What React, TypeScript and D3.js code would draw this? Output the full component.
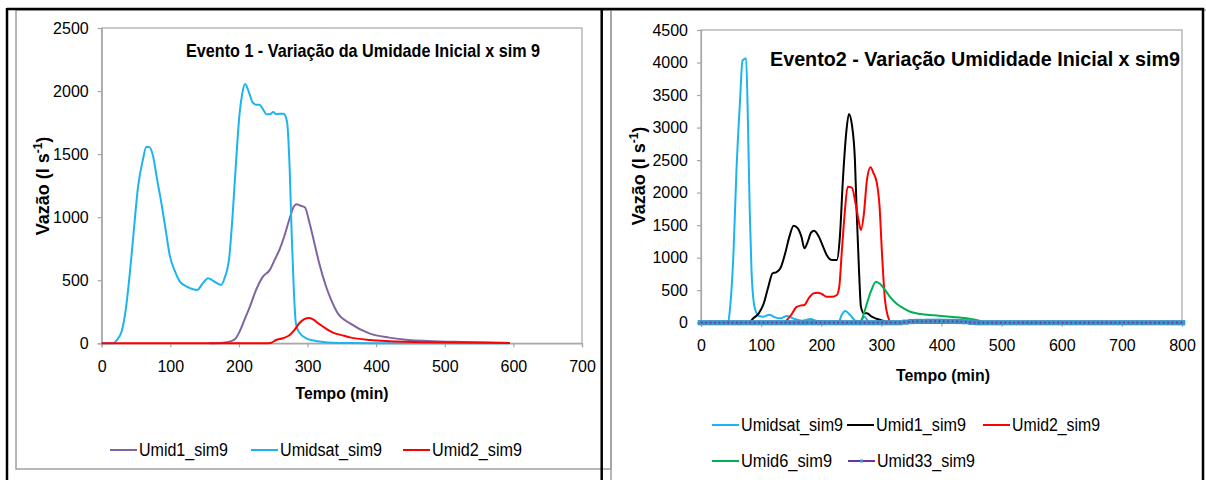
import React, { useEffect, useRef } from "react";
import * as d3 from "d3";

// ---- Evento 1 (left chart) : [tempo (min), vazão (l/s)]
const ev1Umid1 = [
  [157, 0], [177, 5], [186, 13], [194, 32], [201, 93], [208, 185], [216, 291], [225, 423],
  [235, 529], [245, 582], [252, 661], [259, 741], [266, 847], [274, 992], [280, 1085],
  [284, 1103], [289, 1093], [296, 1079], [303, 952], [310, 794], [317, 635], [327, 450],
  [334, 350], [344, 238], [362, 158], [390, 79], [419, 45], [447, 26], [475, 18], [526, 10],
  [595, 3],
];
const ev1Umidsat = [
  [0, 0], [17, 0], [22, 26], [29, 93], [35, 265], [41, 556], [46, 847], [53, 1243], [60, 1455],
  [65, 1556], [69, 1556], [75, 1481], [80, 1323], [87, 1111], [94, 873], [99, 701], [107, 569],
  [114, 489], [124, 450], [133, 429], [139, 423], [148, 481], [155, 516], [162, 497], [174, 463],
  [179, 516], [186, 688], [191, 1032], [196, 1455], [201, 1825], [205, 1984], [209, 2056],
  [215, 1984], [220, 1910], [225, 1892], [230, 1892], [235, 1857], [240, 1817], [245, 1817],
  [250, 1833], [254, 1817], [259, 1820], [265, 1820], [270, 1759], [274, 1376], [277, 847],
  [280, 423], [283, 159], [288, 85], [298, 40], [312, 19], [337, 5], [360, 2], [400, 0], [595, 0],
];
const ev1Umid2 = [
  [0, 0], [240, 0], [247, 5], [254, 26], [264, 40], [274, 66], [281, 106], [288, 159], [296, 193],
  [302, 201], [308, 190], [317, 153], [327, 116], [337, 85], [351, 63], [362, 47], [390, 26],
  [419, 16], [475, 8], [595, 3],
];
const ev1XTicks = [0, 100, 200, 300, 400, 500, 600, 700];
const ev1YTicks = [0, 500, 1000, 1500, 2000, 2500];

// ---- Evento 2 (right chart)
const ev2Umidsat = [
  [0, 0], [45, 0], [48, 195], [54, 1067], [59, 2349], [65, 3426], [69, 4030], [75, 4067],
  [78, 3118], [81, 1733], [84, 810], [89, 246], [96, 103], [104, 92], [114, 123], [123, 82],
  [132, 67], [143, 103], [154, 62], [168, 31], [182, 56], [193, 26], [204, 15], [229, 15],
  [234, 118], [240, 179], [248, 118], [257, 31], [265, 26], [272, 90], [279, 15], [290, 0],
  [800, 0],
];
const ev2Umid1 = [
  [0, 0], [79, 0], [87, 67], [96, 144], [104, 287], [112, 554], [119, 759], [125, 774],
  [132, 836], [140, 1067], [147, 1323], [154, 1492], [161, 1451], [167, 1323], [172, 1144],
  [177, 1231], [183, 1385], [188, 1415], [196, 1323], [203, 1169], [209, 1041], [218, 964],
  [226, 964], [231, 1323], [236, 2195], [242, 2964], [246, 3210], [251, 3041], [256, 2503],
  [259, 1682], [263, 759], [266, 246], [271, 144], [276, 144], [284, 92], [293, 56], [304, 26],
  [312, 5], [320, 0], [800, 0],
];
const ev2Umid2 = [
  [0, 0], [136, 0], [143, 41], [151, 133], [158, 236], [165, 262], [172, 272], [179, 374],
  [187, 451], [194, 462], [201, 441], [209, 400], [218, 400], [226, 426], [230, 554], [234, 1067],
  [239, 1682], [244, 2092], [251, 2077], [257, 1836], [262, 1579], [266, 1426], [271, 1682],
  [276, 2195], [282, 2390], [287, 2297], [292, 2169], [297, 1785], [301, 1067], [306, 349],
  [311, 92], [315, 15], [320, 0], [800, 0],
];
const ev2Umid6 = [
  [0, 0], [243, 0], [265, 15], [271, 144], [276, 297], [283, 492], [291, 631], [298, 595],
  [307, 492], [315, 390], [326, 287], [337, 221], [348, 169], [365, 133], [387, 113], [409, 97],
  [430, 80], [450, 55], [465, 25], [472, 3], [480, 0], [800, 0],
];
const ev2Umid33 = [
  [0, 0], [10, 0], [20, 0], [30, 0], [40, 0], [50, 0], [60, 0], [70, 0], [80, 0], [90, 0],
  [100, 0], [110, 0], [120, 0], [130, 0], [140, 0], [150, 0], [160, 0], [170, 0], [180, 0],
  [190, 0], [200, 0], [210, 0], [220, 0], [230, 0], [240, 0], [250, 0], [260, 0], [270, 0],
  [280, 0], [290, 0], [300, 0], [310, 0], [320, 0], [330, 0], [340, 8], [350, 18], [360, 20],
  [370, 20], [380, 22], [390, 22], [400, 22], [410, 20], [420, 20], [430, 18], [440, 15],
  [450, 5], [460, 0], [470, 0], [480, 0], [490, 0], [500, 0], [510, 0], [520, 0], [530, 0],
  [540, 0], [550, 0], [560, 0], [570, 0], [580, 0], [590, 0], [600, 0], [610, 0], [620, 0],
  [630, 0], [640, 0], [650, 0], [660, 0], [670, 0], [680, 0], [690, 0], [700, 0], [710, 0],
  [720, 0], [730, 0], [740, 0], [750, 0], [760, 0], [770, 0], [780, 0], [790, 0], [800, 0],
];
const ev2XTicks = [0, 100, 200, 300, 400, 500, 600, 700, 800];
const ev2YTicks = [0, 500, 1000, 1500, 2000, 2500, 3000, 3500, 4000, 4500];

const NARROW = "'Liberation Sans Narrow', 'Arial Narrow', 'Liberation Sans', Arial, sans-serif";

const chart1 = {
  box: [101.7, 28, 582, 343.3],
  xMax: 700,
  yMax: 2500,
  xTicks: ev1XTicks,
  yTicks: ev1YTicks,
  title: "Evento 1 - Variação da Umidade Inicial x sim 9",
  titlePos: [363, 57, 19, 354],
  yTitle: [49, 186, 108],
  xTitle: [342, 399, 93],
  series: [
    { name: "Umid1_sim9", color: "#8064A2", pts: ev1Umid1 },
    { name: "Umidsat_sim9", color: "#1CB4F0", pts: ev1Umidsat },
    { name: "Umid2_sim9", color: "#FF0000", pts: ev1Umid2 },
  ],
  // legend rows: [lineX, y, textWidth] per series
  legend: [
    [110, 450, 89],
    [251, 450, 102],
    [403, 450, 90],
  ],
};

const chart2 = {
  box: [701, 30, 1182, 322.7],
  xMax: 800,
  yMax: 4500,
  xTicks: ev2XTicks,
  yTicks: ev2YTicks,
  title: "Evento2 - Variação Umididade Inicial  x sim9",
  titlePos: [975, 66, 21, 410],
  yTitle: [645, 176, 112],
  xTitle: [943, 381, 94],
  series: [
    { name: "Umidsat_sim9", color: "#1CB4F0", pts: ev2Umidsat },
    { name: "Umid1_sim9", color: "#000000", pts: ev2Umid1 },
    { name: "Umid2_sim9", color: "#FF0000", pts: ev2Umid2 },
    { name: "Umid6_sim9", color: "#00B050", pts: ev2Umid6 },
    { name: "Umid33_sim9", color: "#7030A0", pts: ev2Umid33, markers: true },
  ],
  legend: [
    [712, 425, 102],
    [847, 425, 90],
    [983, 425, 88],
    [712, 461, 91],
    [848, 461, 98],
  ],
};

const Chart = ({ cfg }: { cfg: any }) => {
  const ref = useRef<SVGGElement>(null);

  useEffect(() => {
    const g = d3.select(ref.current);
    g.selectAll("*").remove();
    const [l, t, r, b] = cfg.box;
    const x = d3.scaleLinear().domain([0, cfg.xMax]).range([l, r]);
    const y = d3.scaleLinear().domain([0, cfg.yMax]).range([b, t]);

    g.append("rect")
      .attr("x", l).attr("y", t).attr("width", r - l).attr("height", b - t)
      .attr("fill", "none").attr("stroke", "#A6A6A6").attr("stroke-width", 1.2);

    const yAxis = d3.axisLeft(y).tickValues(cfg.yTicks).tickSize(4).tickPadding(9).tickFormat(d3.format("d"));
    const xAxis = d3.axisBottom(x).tickValues(cfg.xTicks).tickSize(4).tickPadding(13).tickFormat(d3.format("d"));

    const ya = g.append("g").attr("transform", `translate(${l},0)`).call(yAxis);
    const xa = g.append("g").attr("transform", `translate(0,${b})`).call(xAxis);
    [ya, xa].forEach((a) => {
      a.select(".domain").attr("stroke", "#A6A6A6").attr("stroke-width", 1.2);
      a.selectAll(".tick line").attr("stroke", "#A6A6A6").attr("stroke-width", 1.2);
      a.selectAll(".tick text")
        .attr("font-family", NARROW).attr("font-size", 16).attr("fill", "#000");
    });

    const line = d3.line<number[]>()
      .x((d) => x(d[0]))
      .y((d) => y(d[1]))
      .curve(d3.curveMonotoneX);

    cfg.series.forEach((s: any) => {
      if (s.markers) {
        g.append("g").selectAll("rect").data(s.pts).join("rect")
          .attr("x", (d: any) => x(d[0]) - 3.3)
          .attr("y", (d: any) => y(d[1]) - 2.6)
          .attr("width", 6.6).attr("height", 5.2)
          .attr("fill", "#3F93C6");
        g.append("path").attr("d", line(s.pts))
          .attr("fill", "none").attr("stroke", s.color).attr("stroke-width", 1.8)
          .attr("stroke-dasharray", "1.6 2.8");
      } else {
        g.append("path").attr("d", line(s.pts))
          .attr("fill", "none").attr("stroke", s.color).attr("stroke-width", 2)
          .attr("stroke-linejoin", "round");
      }
    });

    // legend
    cfg.series.forEach((s: any, i: number) => {
      const [lx, ly, tw] = cfg.legend[i];
      g.append("line")
        .attr("x1", lx).attr("x2", lx + 27).attr("y1", ly).attr("y2", ly)
        .attr("stroke", s.color).attr("stroke-width", 2);
      if (s.markers) {
        g.append("rect").attr("x", lx + 12).attr("y", ly - 1.5).attr("width", 3).attr("height", 3)
          .attr("fill", "#3F93C6");
      }
      g.append("text")
        .attr("x", lx + 29).attr("y", ly + 6)
        .attr("font-family", NARROW).attr("font-size", 18)
        .attr("textLength", tw).attr("lengthAdjust", "spacingAndGlyphs")
        .text(s.name);
    });

    // titles
    const [tx, ty, tfs, tw] = cfg.titlePos;
    g.append("text")
      .attr("x", tx).attr("y", ty).attr("text-anchor", "middle")
      .attr("font-family", NARROW).attr("font-weight", "bold").attr("font-size", tfs)
      .attr("textLength", tw).attr("lengthAdjust", "spacingAndGlyphs")
      .text(cfg.title);

    const [xtx, xty, xtw] = cfg.xTitle;
    g.append("text")
      .attr("x", xtx).attr("y", xty).attr("text-anchor", "middle")
      .attr("font-family", NARROW).attr("font-weight", "bold").attr("font-size", 17)
      .attr("textLength", xtw).attr("lengthAdjust", "spacingAndGlyphs")
      .text("Tempo (min)");

    const [ytx, yty] = cfg.yTitle;
    const yt = g.append("text")
      .attr("transform", `translate(${ytx},${yty}) rotate(-90)`)
      .attr("text-anchor", "middle")
      .attr("font-family", NARROW).attr("font-weight", "bold").attr("font-size", 18);
    yt.append("tspan").text("Vazão (l s");
    yt.append("tspan").attr("dy", -7).attr("font-size", 12).text("-1");
    yt.append("tspan").attr("dy", 7).text(")");
  }, [cfg]);

  return <g ref={ref} />;
};

export default function App() {
  return (
    <svg
      width={1206}
      height={480}
      style={{ position: "absolute", left: 0, top: 0, background: "#fff" }}
    >
      <rect x={0} y={0} width={1206} height={480} fill="#fff" />
      {/* chart area frames */}
      <rect x={16} y={10} width={595} height={459} fill="none" stroke="#A0A0A0" strokeWidth={1.5} />
      <rect x={611} y={10} width={620} height={500} fill="none" stroke="#A0A0A0" strokeWidth={1.5} />
      <Chart cfg={chart1} />
      <Chart cfg={chart2} />
      {/* outer black table borders */}
      <line x1={7} x2={1204} y1={9} y2={9} stroke="#000" strokeWidth={2.5} />
      <line x1={7} x2={7} y1={8} y2={480} stroke="#000" strokeWidth={2.5} />
      <line x1={601.7} x2={601.7} y1={8} y2={480} stroke="#000" strokeWidth={2.5} />
      <line x1={1203} x2={1203} y1={8} y2={480} stroke="#000" strokeWidth={2.5} />
    </svg>
  );
}
